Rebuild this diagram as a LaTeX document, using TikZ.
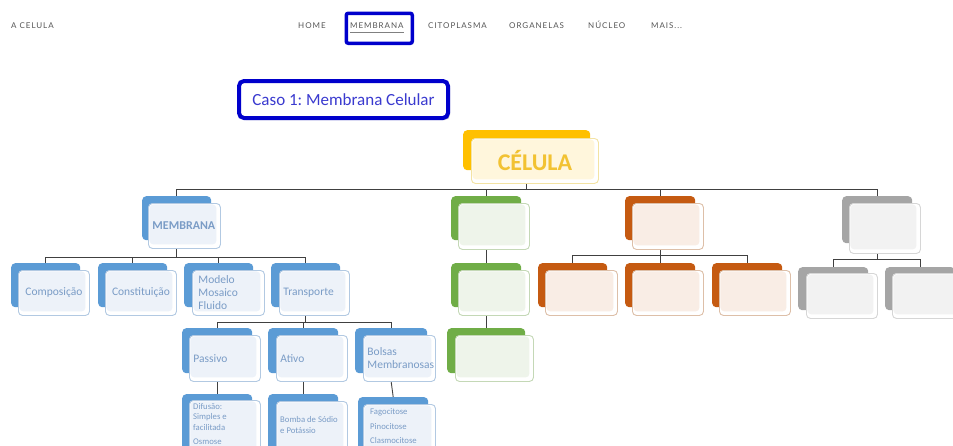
\documentclass[tikz,border=0pt]{standalone}
\usepackage{fontspec}
\setmainfont{Carlito}
\newfontfamily\navfont[LetterSpace=12]{Lato}
\usetikzlibrary{shadows,calc}
\definecolor{blM}{HTML}{5B9BD5}\definecolor{blB}{HTML}{B2C9E2}\definecolor{blT}{HTML}{EDF2F9}\definecolor{blX}{HTML}{7A9CC6}
\definecolor{grM}{HTML}{70AD47}\definecolor{grB}{HTML}{C4D8B6}\definecolor{grT}{HTML}{EEF4EA}\definecolor{grX}{HTML}{70AD47}
\definecolor{orM}{HTML}{C55A11}\definecolor{orB}{HTML}{DDBFA8}\definecolor{orT}{HTML}{F9EDE5}\definecolor{orX}{HTML}{C55A11}
\definecolor{gyM}{HTML}{A5A5A5}\definecolor{gyB}{HTML}{D6D6D6}\definecolor{gyT}{HTML}{F2F2F2}\definecolor{gyX}{HTML}{A5A5A5}
\definecolor{yeM}{HTML}{FFC000}\definecolor{yeB}{HTML}{F3E3A3}\definecolor{yeT}{HTML}{FFF6DC}\definecolor{yeX}{HTML}{F2C232}
\definecolor{linec}{HTML}{404040}
\definecolor{navc}{HTML}{555555}
\definecolor{navbox}{HTML}{0000CC}
\definecolor{casoc}{HTML}{3A3ACF}
\pgfdeclarelayer{bg}\pgfsetlayers{bg,main}
\frenchspacing
\tikzset{
  back/.style={fill=#1M, rounded corners=4pt, anchor=north west, inner sep=0pt},
  front/.style={draw=#1B, fill=white, line width=0.9pt, rounded corners=4pt,
    anchor=north west, inner xsep=4pt, inner ysep=0pt, align=left, text=#1X,
    font=\fontsize{11.5}{13}\selectfont,
    path picture={\fill[#1T] ([shift={(1pt,-1pt)}]path picture bounding box.north west)
      rectangle ([shift={(-4pt,4pt)}]path picture bounding box.south east);}},
  conn/.style={draw=linec, line width=0.9pt},
  nav/.style={font=\navfont\fontsize{8}{9}\selectfont, text=navc, anchor=base west, inner sep=0pt},
  small/.style={font=\fontsize{8.7}{10}\selectfont, text=blX, anchor=base west, inner sep=0pt},
}
\begin{document}
\begin{tikzpicture}[x=1pt,y=-1pt]
\useasboundingbox (0,0) rectangle (953,445);
\clip (0,0) rectangle (953,445);
% header
\node[draw=navbox, fill=white, line width=3.5pt, rounded corners=2pt, minimum width=66pt, minimum height=30pt,
  anchor=north west, drop shadow={shadow xshift=1.5pt, shadow yshift=-1.5pt, opacity=0.35}] (navsel) at (344.5,11.5) {};
\node[nav] (brand) at (11,28) {A CELULA};
\node[nav] (home) at (298,28) {HOME};
\node[nav] (nmem) at (350,28) {MEMBRANA};
\node[nav] (ncit) at (428,28) {CITOPLASMA};
\node[nav] (norg) at (509,28) {ORGANELAS};
\node[nav] (nnuc) at (588,28) {NÚCLEO};
\node[nav] (nmais) at (651,28) {MAIS...};
\draw[gray, line width=0.6pt] (nmem.south west) ++(0,4) coordinate (ul1) -- (ul1 -| nmem.south east);
% Caso box
\node[draw=navbox, line width=4pt, rounded corners=5pt, fill=white, minimum width=209pt, minimum height=37pt,
  anchor=north west, text=casoc, font=\fontsize{17}{19}\selectfont,
  drop shadow={shadow xshift=2pt, shadow yshift=-2pt, opacity=0.4}] (caso) at (237,79) {Caso 1: Membrana Celular};

% CELULA
\node[back=ye, minimum width=127pt, minimum height=40pt] (cel-b) at (463,130) {};
\node[front=ye, minimum width=127pt, minimum height=45pt, text width=119pt, align=center,
  font=\fontsize{24}{26}\selectfont\bfseries] (cel) at (471,138) {CÉLULA};

% level 1
\node[back=bl, minimum width=69pt, minimum height=44pt] (memb-b) at (142,196) {};
\node[front=bl, minimum width=72pt, minimum height=45pt, text width=64pt, font=\fontsize{12}{14}\selectfont\bfseries] (memb) at (148,203) {MEMBRANA};
\node[back=gr, minimum width=70pt, minimum height=44pt] (g1-b) at (451,196) {};
\node[front=gr, minimum width=71pt, minimum height=46pt, text width=63pt] (g1) at (458,203) {};
\node[back=or, minimum width=70pt, minimum height=44pt] (o1-b) at (625,196) {};
\node[front=or, minimum width=71pt, minimum height=46pt, text width=63pt] (o1) at (632,203) {};
\node[back=gy, minimum width=70pt, minimum height=47pt] (y1-b) at (842,196) {};
\node[front=gy, minimum width=71pt, minimum height=50pt, text width=63pt] (y1) at (849,203) {};

% membrana children
\node[back=bl, minimum width=69pt, minimum height=44pt] (comp-b) at (11,263) {};
\node[front=bl, minimum width=71pt, minimum height=45pt, text width=63pt, align=center] (comp) at (18,270) {Composição};
\node[back=bl, minimum width=69pt, minimum height=44pt] (cons-b) at (98,263) {};
\node[front=bl, minimum width=71pt, minimum height=45pt, text width=63pt, align=center] (cons) at (105,270) {Constituição};
\node[back=bl, minimum width=69pt, minimum height=44pt] (mod-b) at (184,263) {};
\node[front=bl, minimum width=70pt, minimum height=45pt, text width=60pt, inner xsep=6pt] (mod) at (192,270) {Modelo\\Mosaico\\Fluido};
\node[back=bl, minimum width=69pt, minimum height=44pt] (tr-b) at (271,263) {};
\node[front=bl, minimum width=70pt, minimum height=45pt, text width=62pt] (tr) at (279,270) {Transporte};

% green chain
\node[back=gr, minimum width=70pt, minimum height=44pt] (g2-b) at (451,263) {};
\node[front=gr, minimum width=71pt, minimum height=45pt, text width=63pt] (g2) at (458,270) {};
\node[back=gr, minimum width=78pt, minimum height=45pt] (g3-b) at (447,328) {};
\node[front=gr, minimum width=78pt, minimum height=46pt, text width=70pt] (g3) at (455,335) {};

% orange children
\node[back=or, minimum width=69pt, minimum height=44pt] (o2-b) at (538,263) {};
\node[front=or, minimum width=72pt, minimum height=45pt, text width=64pt] (o2) at (545,270) {};
\node[back=or, minimum width=70pt, minimum height=44pt] (o3-b) at (625,263) {};
\node[front=or, minimum width=71pt, minimum height=45pt, text width=63pt] (o3) at (632,270) {};
\node[back=or, minimum width=70pt, minimum height=44pt] (o4-b) at (712,263) {};
\node[front=or, minimum width=71pt, minimum height=45pt, text width=63pt] (o4) at (719,270) {};

% gray children
\node[back=gy, minimum width=70pt, minimum height=43pt] (y2-b) at (798,267) {};
\node[front=gy, minimum width=71pt, minimum height=45pt, text width=63pt] (y2) at (806,273) {};
\node[back=gy, minimum width=70pt, minimum height=43pt] (y3-b) at (885,267) {};
\node[front=gy, minimum width=71pt, minimum height=45pt, text width=63pt] (y3) at (892,273) {};

% transporte children
\node[back=bl, minimum width=70pt, minimum height=45pt] (pa-b) at (182,328) {};
\node[front=bl, minimum width=71pt, minimum height=46pt, text width=63pt] (pa) at (189,335) {Passivo};
\node[back=bl, minimum width=70pt, minimum height=45pt] (at-b) at (268,328) {};
\node[front=bl, minimum width=71pt, minimum height=46pt, text width=63pt] (at) at (276,335) {Ativo};
\node[back=bl, minimum width=72pt, minimum height=45pt] (bo-b) at (355,328) {};
\node[front=bl, minimum width=72pt, minimum height=46pt, text width=64pt] (bo) at (363,335) {Bolsas\\Membranosas};

% level 4
\node[back=bl, minimum width=70pt, minimum height=60pt] (pa2-b) at (182,394) {};
\node[front=bl, minimum width=71pt, minimum height=60pt, text width=63pt] (pa2) at (189,400) {};
\node[back=bl, minimum width=70pt, minimum height=60pt] (at2-b) at (268,394) {};
\node[front=bl, minimum width=71pt, minimum height=60pt, text width=63pt] (at2) at (276,401) {};
\node[back=bl, minimum width=70pt, minimum height=60pt] (bo2-b) at (358,397) {};
\node[front=bl, minimum width=72pt, minimum height=60pt, text width=64pt] (bo2) at (363,404) {};
\node[small] (t1) at (193,409) {Difusão:};
\node[small] (t2) at (193,419.5) {Simples e};
\node[small] (t3) at (193,430) {facilitada};
\node[small] (t4) at (193,444) {Osmose};
\node[small] (t5) at (280,422) {Bomba de Sódio};
\node[small] (t6) at (280,433) {e Potássio};
\node[small] (t7) at (370,414) {Fagocitose};
\node[small] (t8) at (370,429) {Pinocitose};
\node[small] (t9) at (370,443) {Clasmocitose};

% connectors
\begin{pgfonlayer}{bg}
\coordinate (bus0) at (0,189);
\foreach \c in {memb,g1,o1,y1}
  \draw[conn] (cel-b.south |- cel.south) -- (cel-b.south |- bus0) -| (\c-b.north);
\coordinate (bus1) at (0,257);
\foreach \c in {comp,cons,mod,tr}
  \draw[conn] (memb-b.south |- memb.south) -- (memb-b.south |- bus1) -| (\c-b.north);
\coordinate (bus2) at (0,322);
\foreach \c in {pa,at,bo}
  \draw[conn] (tr-b.south |- tr.south) -- (tr-b.south |- bus2) -| (\c-b.north);
\coordinate (bus3) at (0,255);
\foreach \c in {o2,o3,o4}
  \draw[conn] (o1-b.south |- o1.south) -- (o1-b.south |- bus3) -| (\c-b.north);
\coordinate (bus4) at (0,259);
\foreach \c in {y2,y3}
  \draw[conn] (y1-b.south |- y1.south) -- (y1-b.south |- bus4) -| (\c-b.north);
\draw[conn] (g1-b.south |- g1.south) -- (g2-b.north);
\draw[conn] (g2-b.south |- g2.south) -- (g2-b.south |- g3-b.north);
\draw[conn] (pa-b.south |- pa.south) -- (pa2-b.north);
\draw[conn] (at-b.south |- at.south) -- (at2-b.north);
\draw[conn] (bo-b.south |- bo.south) -- (bo2-b.north);
\end{pgfonlayer}
\end{tikzpicture}
\end{document}
